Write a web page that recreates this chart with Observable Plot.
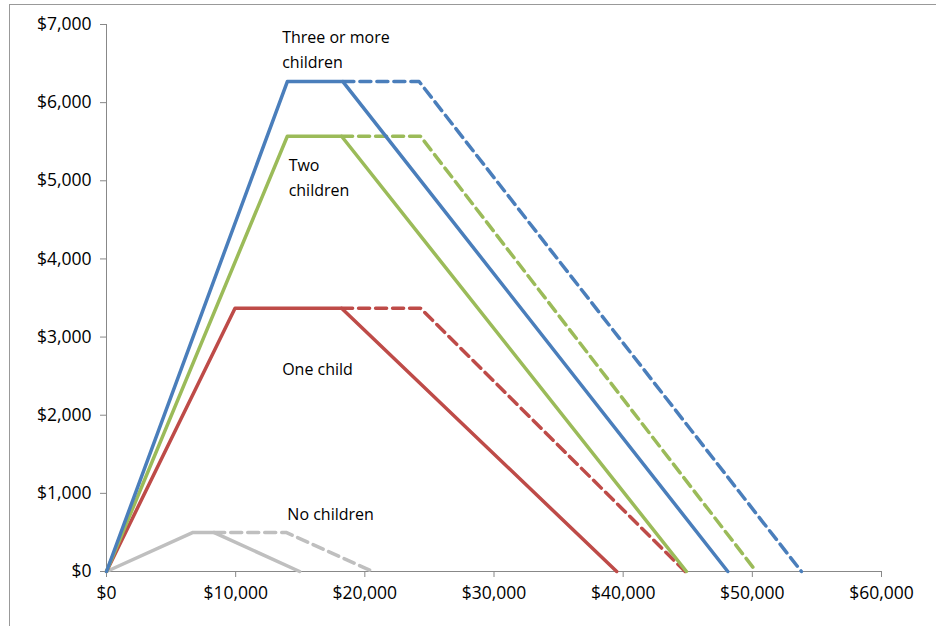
<!DOCTYPE html>
<html><head><meta charset="utf-8">
<script src="https://cdn.jsdelivr.net/npm/d3@7"></script>
<script src="https://cdn.jsdelivr.net/npm/@observablehq/plot@0.6"></script>
<style>body{margin:0;background:#fff}#frame{position:absolute;left:9px;top:4px;width:940px;height:640px;border-left:1px solid #999;border-top:1px solid #999}#c{position:absolute;left:0;top:0}
#c svg g[aria-label$="tick label"], #c svg g[aria-label$="tick label"] text{font-size:17.5px !important}</style>
</head><body><div id="frame"></div><div id="c"></div>
<script>
const seriesNames = ["No children","One child","Two children","Three or more children"];
const colors = ["#bfbfbf","#be4b48","#9bbb59","#4a7ebb"];
// solid: single filers; dashed: married filing jointly
const solidX = [[0,6700,8300,14950],[0,9950,18200,39500],[0,14000,18200,44900],[0,14000,18300,48100]];
const solidY = [[0,500,500,0],[0,3370,3370,0],[0,5570,5570,0],[0,6270,6270,0]];
const dashX = [[8300,13900,20600],[18200,24300,44800],[18200,24300,50300],[18300,24200,53800]];
const dashY = [[500,500,0],[3370,3370,0],[5570,5570,0],[6270,6270,0]];
const labelText = ["No children","One child","Two\nchildren","Three or more\nchildren"];
const labelX = [14000,13600,14100,13600];
const labelY = [760,2610,5070,6700];
const xTicks = [0,10000,20000,30000,40000,50000,60000];
const yTicks = [0,1000,2000,3000,4000,5000,6000,7000];

const solid=[],dash=[];
seriesNames.forEach((s,i)=>{
  solidX[i].forEach((x,j)=>solid.push({s,x,y:solidY[i][j]}));
  dashX[i].forEach((x,j)=>dash.push({s,x,y:dashY[i][j]}));
});
const labels=seriesNames.map((s,i)=>({t:labelText[i],x:labelX[i],y:labelY[i]}));
const fmt=d=>"$"+d3.format(",")(d);
const chart=Plot.plot({
  width:936,height:626,marginLeft:106,marginRight:55,marginTop:24,marginBottom:55,
  style:{fontFamily:"Open Sans",fontSize:"16px",color:"#000"},
  x:{domain:[0,60000],label:null},
  y:{domain:[0,7000],label:null},
  color:{domain:seriesNames,range:colors},
  marks:[
    Plot.axisX({ticks:xTicks,tickFormat:fmt,stroke:"#888",tickPadding:9,tickSize:6,fill:"#000",fontSize:17.5}),
    Plot.axisY({ticks:yTicks,tickFormat:fmt,stroke:"#888",tickPadding:9,tickSize:6,fill:"#000",fontSize:17.5}),
    Plot.ruleY([0],{stroke:"#888"}),
    Plot.ruleX([0],{stroke:"#888"}),
    Plot.line(dash,{x:"x",y:"y",z:"s",stroke:"s",strokeWidth:3.5,strokeDasharray:"11,6"}),
    Plot.line(solid,{x:"x",y:"y",z:"s",stroke:"s",strokeWidth:3.5}),
    Plot.text(labels,{x:"x",y:"y",text:"t",textAnchor:"start",lineHeight:1.55,fontSize:16,fill:"#000"})
  ]
});
document.getElementById("c").appendChild(chart);
</script></body></html>
